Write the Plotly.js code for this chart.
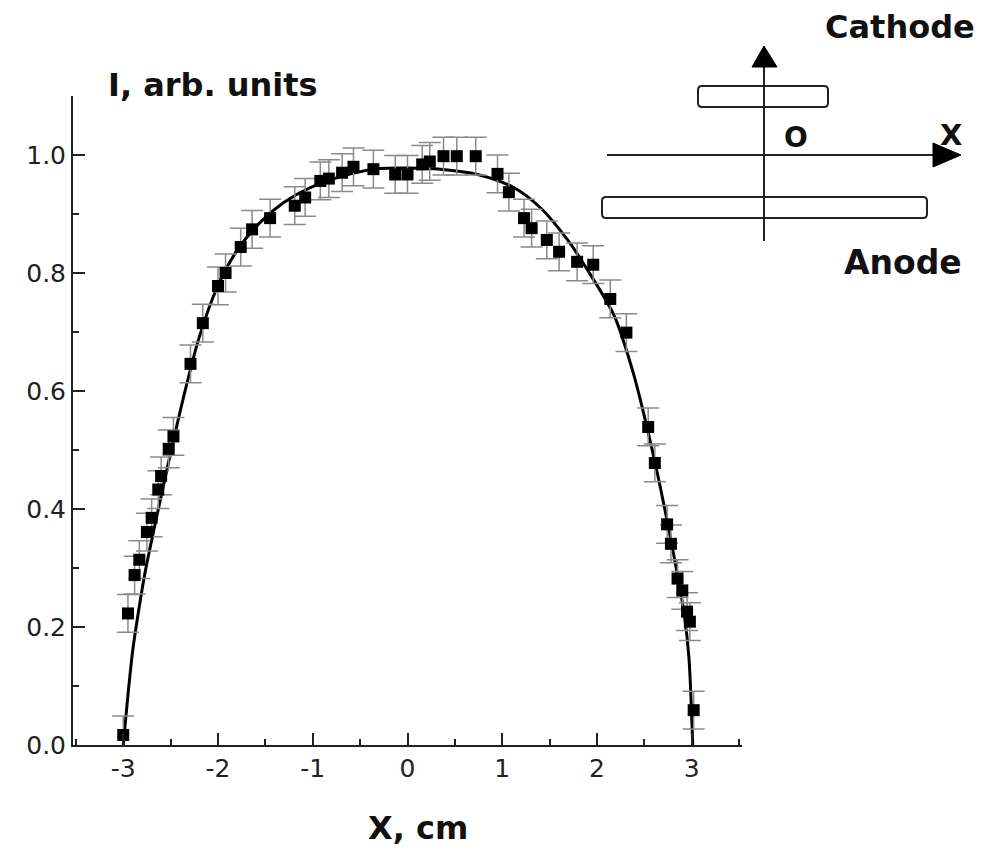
<!DOCTYPE html>
<html>
<head>
<meta charset="utf-8">
<script src="https://cdn.plot.ly/plotly-3.0.1.min.js"></script>
<style>html,body{margin:0;padding:0;background:#fff;}#chart{width:1000px;height:857px;}</style>
</head>
<body>
<div id="chart"></div>
<script>
// Measured points
const pointX = [-3.00, -2.95, -2.88, -2.83, -2.75, -2.70, -2.63, -2.60, -2.52, -2.47, -2.29, -2.16, -2.00, -1.92, -1.76, -1.64, -1.45, -1.19, -1.08, -0.92, -0.83, -0.69, -0.57, -0.36, -0.13, 0.00, 0.155, 0.235, 0.38, 0.52, 0.72, 0.95, 1.07, 1.23, 1.31, 1.47, 1.60, 1.79, 1.96, 2.14, 2.31, 2.54, 2.61, 2.74, 2.78, 2.85, 2.90, 2.95, 2.98, 3.02];
const pointY = [0.017, 0.223, 0.288, 0.314, 0.361, 0.385, 0.433, 0.456, 0.502, 0.523, 0.646, 0.715, 0.778, 0.800, 0.844, 0.874, 0.893, 0.914, 0.928, 0.956, 0.960, 0.970, 0.980, 0.976, 0.967, 0.967, 0.984, 0.989, 0.998, 0.998, 0.998, 0.968, 0.937, 0.893, 0.876, 0.856, 0.836, 0.819, 0.814, 0.756, 0.699, 0.539, 0.478, 0.374, 0.341, 0.282, 0.262, 0.226, 0.209, 0.059];
const errorY = 0.032;

// Fitted curve
const fitX = [-3.00, -2.95, -2.90, -2.84, -2.77, -2.64, -2.50, -2.34, -2.20, -2.01, -1.80, -1.56, -1.31, -1.02, -0.60, -0.29, 0.00, 0.35, 0.74, 1.12, 1.40, 1.69, 1.90, 2.18, 2.38, 2.50, 2.64, 2.81, 2.92, 2.97, 3.01];
const fitY = [0.000, 0.085, 0.160, 0.225, 0.292, 0.392, 0.495, 0.605, 0.690, 0.775, 0.838, 0.885, 0.919, 0.945, 0.968, 0.977, 0.978, 0.976, 0.967, 0.945, 0.911, 0.856, 0.805, 0.728, 0.632, 0.557, 0.458, 0.322, 0.222, 0.148, 0.000];

const xTickVals = [-3, -2, -1, 0, 1, 2, 3];
const xTickText = ['-3', '-2', '-1', '0', '1', '2', '3'];
const yTickVals = [0.0, 0.2, 0.4, 0.6, 0.8, 1.0];
const yTickText = ['0.0', '0.2', '0.4', '0.6', '0.8', '1.0'];

const xRange = [-3.53, 3.53];
const yRange = [0, 1.1];

// plot area in pixels
const L = 73, R = 742, T = 96, B = 745;
const px = x => (x - L) / (R - L);
const py = y => (B - y) / (B - T);

const traces = [
  {
    x: fitX, y: fitY, type: 'scatter', mode: 'lines',
    line: {color: '#000', width: 3, shape: 'spline', smoothing: 0.8},
    hoverinfo: 'skip'
  },
  {
    x: pointX, y: pointY, type: 'scatter', mode: 'markers',
    marker: {symbol: 'square', size: 12, color: '#000'},
    error_y: {type: 'constant', value: errorY, color: '#8a8a8a', thickness: 1.5, width: 11}
  },
  // carrier for the overlay axes that draw the long major ticks
  {x: [xRange[0]], y: [yRange[0]], xaxis: 'x2', yaxis: 'y2', type: 'scatter', mode: 'markers',
   marker: {size: 1, opacity: 0}, hoverinfo: 'skip'}
];

function roundRect(x0, y0, x1, y1, r) {
  const X = v => px(v), Y = v => py(v);
  return `M ${X(x0 + r)} ${Y(y0)} L ${X(x1 - r)} ${Y(y0)} Q ${X(x1)} ${Y(y0)} ${X(x1)} ${Y(y0 + r)} ` +
         `L ${X(x1)} ${Y(y1 - r)} Q ${X(x1)} ${Y(y1)} ${X(x1 - r)} ${Y(y1)} ` +
         `L ${X(x0 + r)} ${Y(y1)} Q ${X(x0)} ${Y(y1)} ${X(x0)} ${Y(y1 - r)} ` +
         `L ${X(x0)} ${Y(y0 + r)} Q ${X(x0)} ${Y(y0)} ${X(x0 + r)} ${Y(y0)} Z`;
}

const lineStyle = {color: '#222', width: 2};
const shapes = [
  {type: 'line', xref: 'paper', yref: 'paper', x0: px(764), x1: px(764), y0: py(241), y1: py(64), line: lineStyle},
  {type: 'path', xref: 'paper', yref: 'paper',
   path: `M ${px(764)} ${py(46)} L ${px(752)} ${py(67)} L ${px(777)} ${py(67)} Z`,
   fillcolor: '#000', line: {color: '#000', width: 1}},
  {type: 'line', xref: 'paper', yref: 'paper', x0: px(607), x1: px(935), y0: py(155), y1: py(155), line: lineStyle},
  {type: 'path', xref: 'paper', yref: 'paper',
   path: `M ${px(961)} ${py(155)} L ${px(933)} ${py(143)} L ${px(933)} ${py(167)} Z`,
   fillcolor: '#000', line: {color: '#000', width: 1}},
  {type: 'path', xref: 'paper', yref: 'paper', path: roundRect(698, 86, 828, 107, 4),
   line: lineStyle, fillcolor: 'rgba(0,0,0,0)'},
  {type: 'path', xref: 'paper', yref: 'paper', path: roundRect(602, 197, 927, 218, 4),
   line: lineStyle, fillcolor: 'rgba(0,0,0,0)'}
];

const boldFont = (s) => ({family: 'DejaVu Sans', size: s, color: '#111', weight: 'bold'});
const ann = (text, x, y, s) => ({text: '<b>' + text + '</b>', xref: 'paper', yref: 'paper', x: px(x), y: py(y),
  xanchor: 'center', yanchor: 'middle', showarrow: false, font: boldFont(s)});

const annotations = [
  ann('I, arb. units', 213, 85, 32),
  ann('X, cm', 418, 828, 32),
  ann('Cathode', 900, 27, 32),
  ann('Anode', 903, 262, 33),
  ann('O', 796, 138, 28),
  ann('X', 951, 135, 29)
];

const tickFont = {family: 'DejaVu Sans', size: 25, color: '#222'};

const layout = {
  width: 1000, height: 857,
  margin: {l: L, r: 1000 - R, t: T, b: 857 - B},
  paper_bgcolor: '#fff', plot_bgcolor: '#fff',
  showlegend: false,
  xaxis: {
    range: xRange, tickmode: 'array', tickvals: xTickVals, ticktext: xTickText,
    ticks: 'inside', ticklen: 12, tickwidth: 2, tickcolor: '#222',
    minor: {dtick: 0.5, ticks: 'inside', ticklen: 6, tickwidth: 2, tickcolor: '#222'},
    showline: true, linecolor: '#222', linewidth: 2, showgrid: false, zeroline: false,
    tickfont: tickFont
  },
  yaxis: {
    range: yRange, tickmode: 'array', tickvals: yTickVals, ticktext: yTickText,
    ticks: 'inside', ticklen: 12, tickwidth: 2, tickcolor: '#222',
    minor: {dtick: 0.1, ticks: 'inside', ticklen: 6, tickwidth: 2, tickcolor: '#222'},
    showline: true, linecolor: '#222', linewidth: 2, showgrid: false, zeroline: false,
    tickfont: tickFont
  },
  // overlay axes: same ranges, only the long major tick marks
  xaxis2: {
    overlaying: 'x', anchor: 'y2', side: 'bottom', range: xRange, tickmode: 'array', tickvals: xTickVals,
    ticks: 'inside', ticklen: 12, tickwidth: 2, tickcolor: '#222', showticklabels: false,
    showline: false, showgrid: false, zeroline: false
  },
  yaxis2: {
    overlaying: 'y', anchor: 'x2', side: 'left', range: yRange, tickmode: 'array', tickvals: yTickVals,
    ticks: 'inside', ticklen: 12, tickwidth: 2, tickcolor: '#222', showticklabels: false,
    showline: false, showgrid: false, zeroline: false
  },
  shapes: shapes,
  annotations: annotations
};

Plotly.newPlot('chart', traces, layout, {displayModeBar: false, staticPlot: true});
</script>
</body>
</html>
